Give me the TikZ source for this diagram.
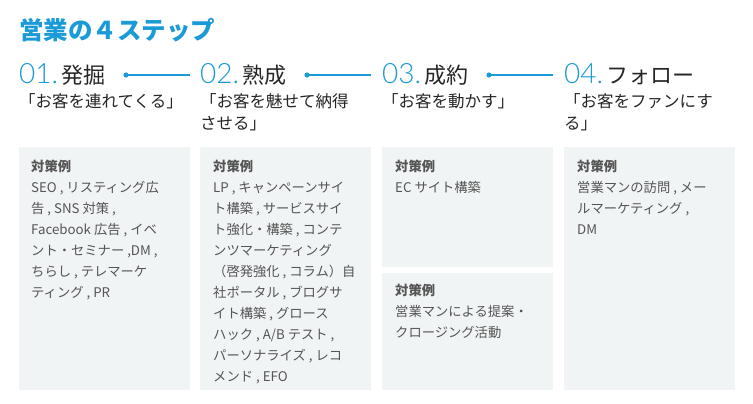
\documentclass[tikz,border=0pt]{standalone}
\usepackage{fontspec}
\setmainfont{Noto Sans CJK JP}
\newfontfamily\numfont{Lato Light}
\definecolor{cblue}{HTML}{1A9AD6}
\definecolor{cbox}{HTML}{F1F4F5}
\definecolor{ctxt}{HTML}{555555}
\begin{document}
\begin{tikzpicture}[x=1pt,y=-1pt,
  boxs/.style={fill=cbox,draw=none},
  head/.style={anchor=base west,inner sep=0pt,font=\fontsize{22}{22}\selectfont,text=black!85},
  sub/.style={anchor=north west,inner sep=0pt,align=left,font=\fontsize{16.5}{22}\selectfont,text=black!85},
  body/.style={anchor=north west,inner sep=0pt,align=left,font=\fontsize{13.3}{21}\selectfont,text=ctxt},
  conn/.style={cblue,line width=1.2pt}]
\useasboundingbox (0,0) rectangle (753,404);
\fill[white] (0,0) rectangle (753,404);
\node[anchor=base west,inner sep=0pt,font=\fontsize{24.5}{24.5}\selectfont\bfseries,text=cblue] (title) at (19,40) {営業の４ステップ};
% boxes
\fill[boxs] (19,147) rectangle (190,390);
\fill[boxs] (200,147) rectangle (371,390);
\fill[boxs] (382,147) rectangle (553,267);
\fill[boxs] (382,273) rectangle (553,390);
\fill[boxs] (564,147) rectangle (735,390);
% headings
\node[head] (h1) at (19,84) {{\color{cblue}\fontsize{28}{28}\numfont 01.}\,発掘};
\node[head] (h2) at (200,84) {{\color{cblue}\fontsize{28}{28}\numfont 02.}\,熟成};
\node[head] (h3) at (382,84) {{\color{cblue}\fontsize{28}{28}\numfont 03.}\,成約};
\node[head] (h4) at (564,84) {{\color{cblue}\fontsize{28}{28}\numfont 04.}\,フォロー};
\coordinate (e1) at (190,75); \coordinate (e2) at (371,75); \coordinate (e3) at (553,75);
\fill[cblue] (126,75) circle (2.6pt); \draw[conn] (126,75) -- (e1);
\fill[cblue] (307,75) circle (2.6pt); \draw[conn] (307,75) -- (e2);
\fill[cblue] (489,75) circle (2.6pt); \draw[conn] (489,75) -- (e3);
% subtitles
\node[sub] (s1) at (19,93) {「お客を連れてくる」};
\node[sub] (s2) at (200,93) {「お客を魅せて納得\\させる」};
\node[sub] (s3) at (382,93) {「お客を動かす」};
\node[sub] (s4) at (564,93) {「お客をファンにす\\る」};
% bodies
\node[body] (b1) at (31,160) {\textbf{対策例}\\SEO , リスティング広\\告 , SNS 対策 ,\\Facebook 広告 , イベ\\ント・セミナー ,DM ,\\ちらし , テレマーケ\\ティング , PR};
\node[body] (b2) at (213,160) {\textbf{対策例}\\LP , キャンペーンサイ\\ト構築 , サービスサイ\\ト強化・構築 , コンテ\\ンツマーケティング\\（啓発強化 , コラム）自\\社ポータル , ブログサ\\イト構築 , グロース\\ハック , A/B テスト ,\\パーソナライズ , レコ\\メンド , EFO};
\node[body] (b3) at (395,160) {\textbf{対策例}\\EC サイト構築};
\node[body] (b4) at (395,284) {\textbf{対策例}\\営業マンによる提案・\\クロージング活動};
\node[body] (b5) at (577,160) {\textbf{対策例}\\営業マンの訪問 , メー\\ルマーケティング ,\\DM};
\end{tikzpicture}
\end{document}
